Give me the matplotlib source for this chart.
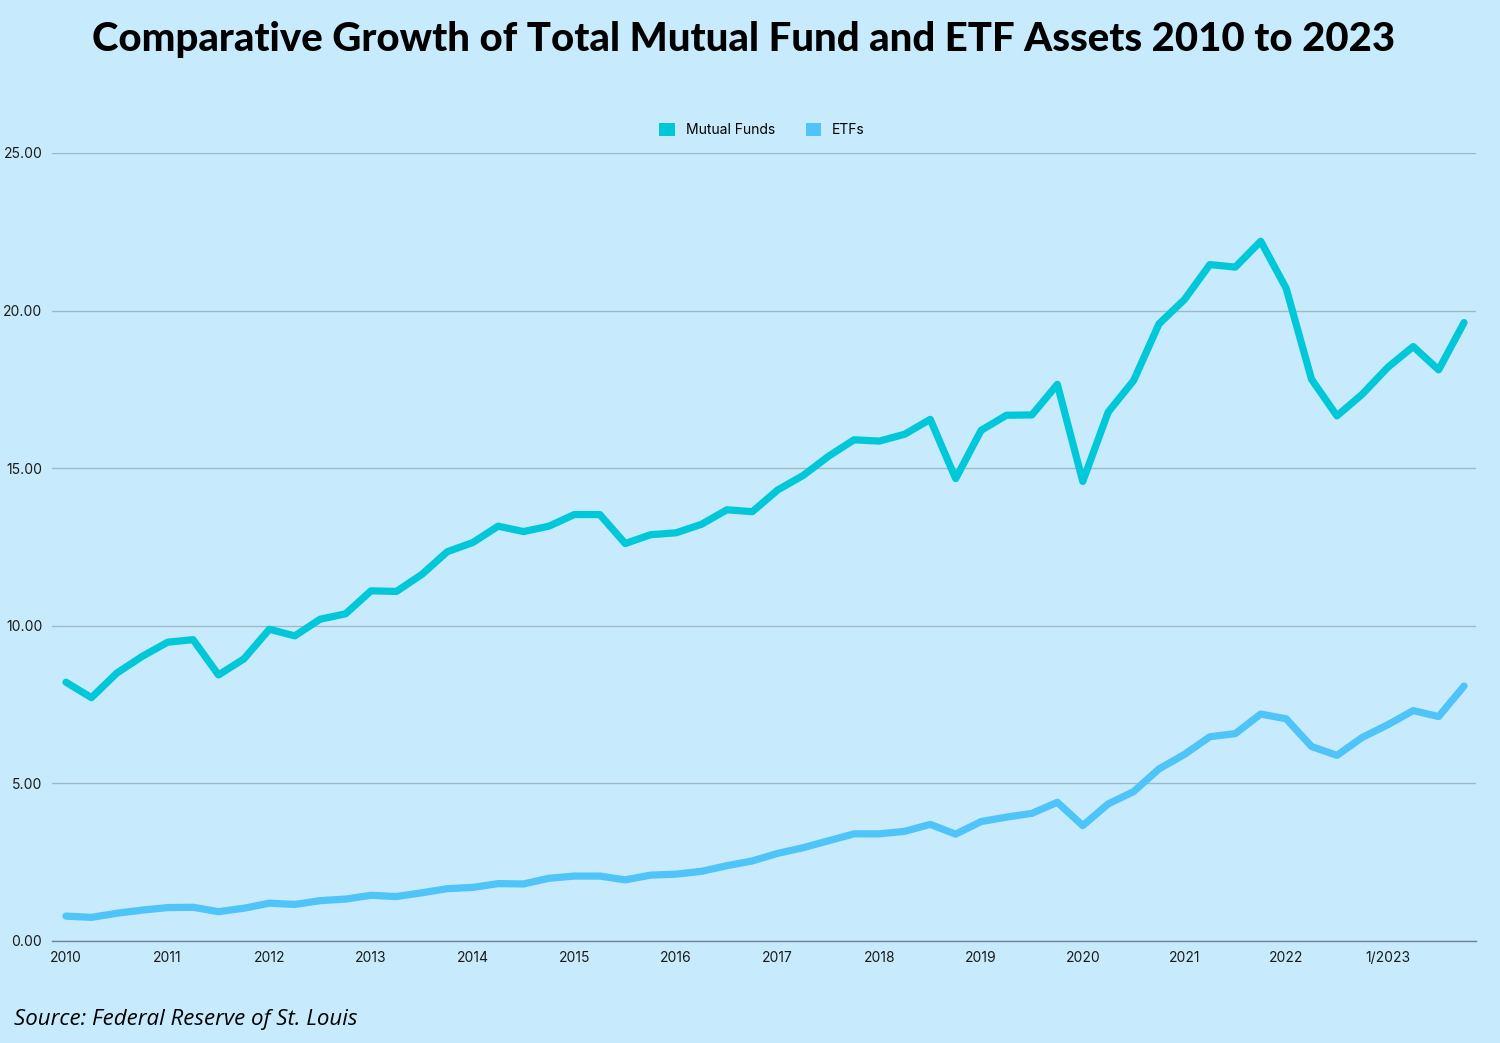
import numpy as np
import matplotlib.pyplot as plt
from matplotlib.patches import Patch

years = [str(y) for y in range(2010, 2023)] + ["1/2023"]

mutual_funds = [8.21, 7.72, 8.50, 9.03, 9.48, 9.56, 8.44, 8.95,
                9.89, 9.68, 10.21, 10.38, 11.11, 11.09, 11.63, 12.35,
                12.64, 13.16, 12.99, 13.16, 13.53, 13.53, 12.61, 12.89,
                12.95, 13.22, 13.68, 13.62, 14.31, 14.77, 15.38, 15.90,
                15.86, 16.08, 16.55, 14.67, 16.20, 16.68, 16.69, 17.66,
                14.58, 16.78, 17.78, 19.58, 20.35, 21.46, 21.38, 22.20,
                20.71, 17.82, 16.66, 17.35, 18.20, 18.86, 18.12, 19.62]

etfs = [0.79, 0.75, 0.88, 0.98, 1.06, 1.07, 0.93, 1.04,
        1.20, 1.16, 1.28, 1.33, 1.45, 1.41, 1.53, 1.66,
        1.70, 1.82, 1.81, 1.99, 2.06, 2.06, 1.94, 2.09,
        2.12, 2.21, 2.39, 2.54, 2.78, 2.96, 3.18, 3.40,
        3.40, 3.48, 3.70, 3.39, 3.79, 3.93, 4.05, 4.40,
        3.66, 4.35, 4.74, 5.46, 5.92, 6.48, 6.58, 7.20,
        7.05, 6.17, 5.89, 6.46, 6.86, 7.31, 7.12, 8.09]

bg = '#c7ebfd'
mf_color = '#00c8d8'
etf_color = '#4fc4f8'

fig = plt.figure(figsize=(15, 10.43), dpi=100, facecolor=bg)
ax = fig.add_axes([52/1500, 1 - 941/1043, (1476 - 52)/1500, (941 - 153)/1043])
ax.set_facecolor(bg)

x = np.arange(len(mutual_funds))
ax.plot(x, mutual_funds, color=mf_color, lw=5.2, solid_joinstyle='round',
        solid_capstyle='round', zorder=3)
ax.plot(x, etfs, color=etf_color, lw=5.2, solid_joinstyle='round',
        solid_capstyle='round', zorder=3)

ax.set_xlim(-0.55, len(x) - 1 + 0.47)
ax.set_ylim(0, 25)
ax.set_yticks(np.arange(0, 26, 5))
ax.set_yticklabels(['%.2f' % v for v in np.arange(0, 26, 5)])
ax.set_xticks(np.arange(0, len(x), 4))
ax.set_xticklabels(years)

ax.grid(axis='y', color='#9fb8c6', lw=1)
ax.set_axisbelow(True)
for s in ['top', 'right', 'left']:
    ax.spines[s].set_visible(False)
ax.spines['bottom'].set_color('#6d8492')
ax.spines['bottom'].set_linewidth(1)
ax.tick_params(length=0, labelsize=10, colors='#1a1a1a')
ax.tick_params(axis='y', pad=7)
ax.tick_params(axis='x', pad=7)
for lab in ax.get_xticklabels() + ax.get_yticklabels():
    lab.set_family('Inter')

handles = [Patch(facecolor=mf_color, label='Mutual Funds'),
           Patch(facecolor=etf_color, label='ETFs')]
leg = fig.legend(handles=handles, loc='center', bbox_to_anchor=(0.508, 1 - 130/1043),
                 ncol=2, frameon=False, handlelength=1.1, handleheight=1.1,
                 columnspacing=2.2, handletextpad=0.8, prop={'family': 'Inter', 'size': 10})

fig.text(0.496, 1 - 40/1043, 'Comparative Growth of Total Mutual Fund and ETF Assets 2010 to 2023',
         ha='center', va='center', fontsize=28.9, fontweight='black', family='Lato')
fig.text(14/1500, 1 - 1019/1043, 'Source: Federal Reserve of St. Louis',
         ha='left', va='center', fontsize=16, style='italic', family='Open Sans')

fig.savefig('out.png', dpi=100, facecolor=bg)
